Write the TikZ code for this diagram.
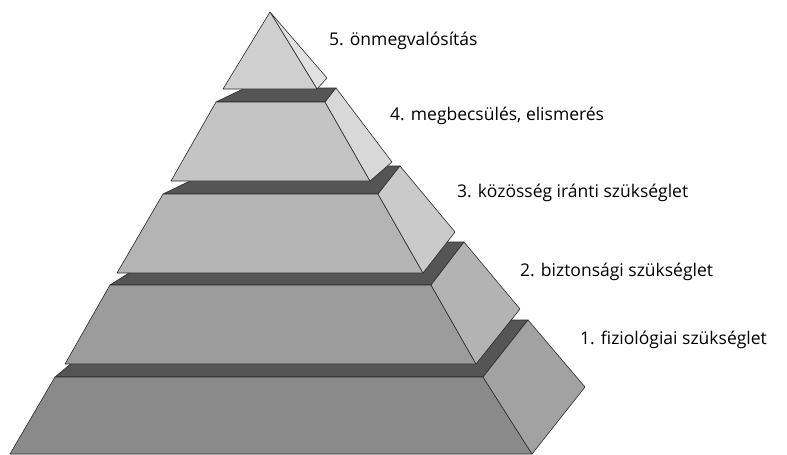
\documentclass[tikz,border=0pt]{standalone}
\usepackage{fontspec}
\setmainfont{Open Sans}
\definecolor{dk}{HTML}{555555}
\definecolor{lAf}{HTML}{8A8A8A}
\definecolor{lAs}{HTML}{A2A2A2}
\definecolor{lBf}{HTML}{9C9C9C}
\definecolor{lBs}{HTML}{B3B3B3}
\definecolor{lCf}{HTML}{B4B4B4}
\definecolor{lCs}{HTML}{CACACA}
\definecolor{lDf}{HTML}{C4C4C4}
\definecolor{lDs}{HTML}{D8D8D8}
\definecolor{lEf}{HTML}{CFCFCF}
\definecolor{lEs}{HTML}{E1E1E1}
\definecolor{edge}{HTML}{2A2A2A}
\begin{document}
\begin{tikzpicture}[x=1pt,y=-1pt,
  face/.style={draw=edge, line width=0.6pt, line join=round},
  lbl/.style={anchor=base west, inner sep=0pt, font=\fontsize{17.5}{20}\selectfont, text=black}]
\useasboundingbox (0,0) rectangle (787,455);
% level 1
\filldraw[face, fill=dk]  (55,377) -- (483,377) -- (528,320) -- (123,320) -- cycle;
\filldraw[face, fill=lAf] (55,377) -- (483,377) -- (532,454) -- (10,454) -- cycle;
\filldraw[face, fill=lAs] (483,377) -- (528,320) -- (585,387) -- (532,454) -- cycle;
% level 2
\filldraw[face, fill=dk]  (110,285) -- (431,285) -- (464,242) -- (178,242) -- cycle;
\filldraw[face, fill=lBf] (110,285) -- (431,285) -- (476,364) -- (65,364) -- cycle;
\filldraw[face, fill=lBs] (431,285) -- (464,242) -- (520,309) -- (476,364) -- cycle;
% level 3
\filldraw[face, fill=dk]  (163,194) -- (378,194) -- (400,166) -- (221,166) -- cycle;
\filldraw[face, fill=lCf] (163,194) -- (378,194) -- (423,273) -- (117,273) -- cycle;
\filldraw[face, fill=lCs] (378,194) -- (400,166) -- (455,232) -- (423,273) -- cycle;
% level 4
\filldraw[face, fill=dk]  (216,102) -- (325,102) -- (336,88) -- (245,88) -- cycle;
\filldraw[face, fill=lDf] (216,102) -- (325,102) -- (370,181) -- (171,181) -- cycle;
\filldraw[face, fill=lDs] (325,102) -- (336,88) -- (392,162) -- (370,181) -- cycle;
% level 5
\filldraw[face, fill=lEs] (270,12) -- (327,78) -- (317,89) -- cycle;
\filldraw[face, fill=lEf] (270,12) -- (317,89) -- (223,89) -- cycle;
% labels
\node[lbl] (t5) at (329,45) {5. önmegvalósítás};
\node[lbl] (t4) at (390,120) {4. megbecsülés, elismerés};
\node[lbl] (t3) at (457,197) {3. közösség iránti szükséglet};
\node[lbl] (t2) at (520,276) {2. biztonsági szükséglet};
\node[lbl] (t1) at (580,344) {1. fiziológiai szükséglet};
\end{tikzpicture}
\end{document}
